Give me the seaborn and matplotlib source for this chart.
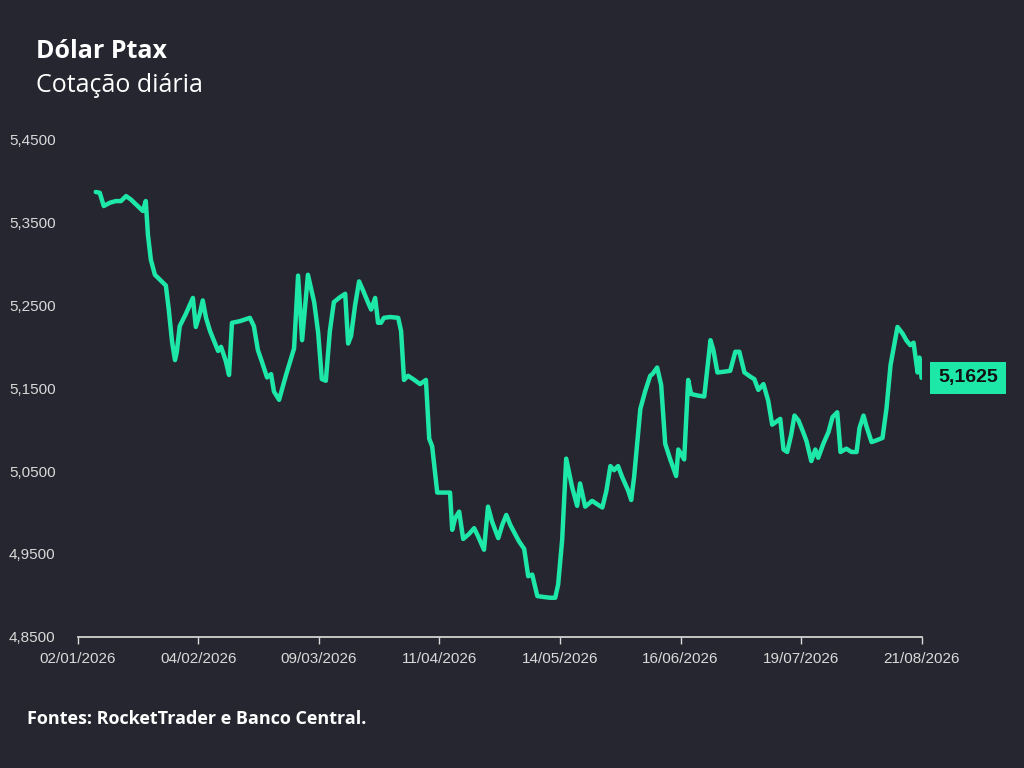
import pandas as pd
import numpy as np
import matplotlib.pyplot as plt
import matplotlib.dates as mdates
import seaborn as sns

start = pd.Timestamp('2026-01-02')
end = pd.Timestamp('2026-08-21')

# dias desde 02/01/2026
days = [4.9, 6.0, 7.1, 8.8, 10.4, 11.8, 13.2, 14.5, 16.4, 17.8,
        18.6, 19.2, 20.0, 21.1, 22.5, 24.1, 24.9, 25.8, 26.6, 27.1,
        27.9, 29.6, 31.5, 32.3, 33.4, 34.2, 35.1, 36.2, 37.3, 38.4,
        39.2, 40.5, 41.4, 42.2, 44.4, 47.1, 48.2, 49.3, 50.4, 51.8,
        52.9, 53.7, 55.1, 57.0, 58.1, 59.2, 60.3, 61.4, 63.0, 64.7,
        65.8, 66.8, 67.9, 69.0, 70.1, 71.8, 73.2, 74.0, 74.8, 75.9,
        77.0, 78.1, 79.5, 80.3, 81.4, 82.2, 83.0, 83.8, 85.5, 87.7,
        88.5, 89.3, 90.4, 91.8, 93.7, 95.3, 96.2, 97.0, 98.4, 100.0,
        101.9, 102.5, 103.3, 104.4, 105.5, 107.1, 108.5, 109.6, 111.2, 112.3,
        113.4, 115.1, 116.2, 117.3, 118.4, 119.7, 120.8, 122.2, 123.3, 124.4,
        125.8, 127.4, 129.3, 130.7, 131.5, 132.6, 133.7, 135.3, 136.7, 137.5,
        138.9, 140.8, 142.5, 143.6, 144.7, 145.8, 146.8, 147.9, 149.0, 150.7,
        151.5, 152.3, 154.0, 155.3, 156.7, 157.3, 158.6, 159.7, 160.8, 162.2,
        163.8, 164.4, 166.0, 167.1, 167.9, 169.9, 171.5, 173.2, 174.0, 175.1,
        177.0, 178.6, 180.0, 181.1, 182.5, 184.1, 185.2, 186.3, 187.7, 189.0,
        190.1, 192.3, 193.2, 194.2, 195.3, 196.2, 197.3, 198.4, 199.5, 200.8,
        201.9, 202.7, 204.1, 205.5, 206.6, 207.9, 208.8, 210.4, 211.8, 213.2,
        214.0, 215.1, 215.9, 217.3, 218.6, 220.3, 221.4, 222.5, 224.4, 225.8,
        226.8, 227.9, 228.8, 229.9, 230.4, 231.0]

ptax = [5.387, 5.386, 5.370, 5.374, 5.376, 5.376, 5.382, 5.378, 5.370, 5.364,
        5.376, 5.335, 5.305, 5.287, 5.281, 5.274, 5.245, 5.206, 5.184, 5.194,
        5.225, 5.240, 5.259, 5.224, 5.240, 5.256, 5.235, 5.219, 5.207, 5.195,
        5.200, 5.183, 5.166, 5.229, 5.231, 5.235, 5.225, 5.196, 5.182, 5.163,
        5.167, 5.146, 5.136, 5.166, 5.182, 5.198, 5.286, 5.208, 5.287, 5.254,
        5.217, 5.161, 5.159, 5.219, 5.254, 5.260, 5.264, 5.204, 5.213, 5.250,
        5.279, 5.268, 5.253, 5.245, 5.259, 5.229, 5.229, 5.235, 5.236, 5.235,
        5.219, 5.160, 5.165, 5.161, 5.155, 5.160, 5.089, 5.080, 5.024, 5.024,
        5.024, 4.979, 4.993, 5.001, 4.968, 4.974, 4.981, 4.971, 4.955, 5.007,
        4.989, 4.969, 4.985, 4.997, 4.985, 4.974, 4.965, 4.956, 4.923, 4.925,
        4.899, 4.898, 4.897, 4.897, 4.913, 4.967, 5.065, 5.031, 5.008, 5.035,
        5.007, 5.014, 5.009, 5.006, 5.026, 5.056, 5.051, 5.056, 5.043, 5.026,
        5.015, 5.043, 5.125, 5.146, 5.165, 5.167, 5.175, 5.154, 5.083, 5.064,
        5.044, 5.076, 5.064, 5.160, 5.143, 5.141, 5.140, 5.208, 5.196, 5.169,
        5.170, 5.171, 5.194, 5.194, 5.169, 5.164, 5.161, 5.148, 5.155, 5.135,
        5.106, 5.113, 5.076, 5.073, 5.094, 5.117, 5.111, 5.099, 5.086, 5.062,
        5.076, 5.066, 5.083, 5.097, 5.115, 5.121, 5.073, 5.077, 5.073, 5.073,
        5.102, 5.117, 5.104, 5.085, 5.087, 5.090, 5.126, 5.178, 5.224, 5.216,
        5.208, 5.202, 5.205, 5.169, 5.187, 5.1625]

n = min(len(days), len(ptax))
df = pd.DataFrame({'data': start + pd.to_timedelta(days[:n], unit='D'),
                   'ptax': ptax[:n]})

bg = '#262630'
green = '#1ee8a8'
grey = '#d9d9d9'

sns.set_theme(style='dark')
plt.rcParams['font.family'] = ['Liberation Sans', 'DejaVu Sans']
fig = plt.figure(figsize=(10.24, 7.68), dpi=100, facecolor=bg)
ax = fig.add_axes([0.076, 0.171, 0.824, 0.647], facecolor=bg)

sns.lineplot(data=df, x='data', y='ptax', ax=ax, color=green, linewidth=3.2,
             estimator=None, sort=False)

ax.set_xlim(start, end)
ax.set_ylim(4.85, 5.45)
yt = [4.85, 4.95, 5.05, 5.15, 5.25, 5.35, 5.45]
ax.set_yticks(yt)
ax.set_yticklabels([f'{v:.4f}'.replace('.', ',') for v in yt])
ax.tick_params(axis='y', length=0, pad=16, labelsize=11, labelcolor=grey)
xt = [start + pd.Timedelta(days=33 * i) for i in range(8)]
ax.set_xticks(xt)
ax.xaxis.set_major_formatter(mdates.DateFormatter('%d/%m/%Y'))
ax.tick_params(axis='x', length=5, width=1, color=grey, labelsize=11,
               labelcolor=grey, pad=6, bottom=True)
ax.set_xlabel('')
ax.set_ylabel('')
ax.grid(False)
for s in ['top', 'right', 'left']:
    ax.spines[s].set_visible(False)
ax.spines['bottom'].set_color(grey)

last = df['ptax'].iloc[-1]
ax.annotate(f'{last:.4f}'.replace('.', ','), xy=(1.0, last),
            xycoords=('axes fraction', 'data'), xytext=(12, 0),
            textcoords='offset points', va='center', ha='left',
            fontsize=14, fontweight='bold', color='#111111',
            bbox=dict(boxstyle='square,pad=0.4', fc=green, ec='none'))

fig.text(0.035, 0.925, 'Dólar Ptax', fontsize=18, fontweight='bold',
         color='white', family='Open Sans')
fig.text(0.035, 0.88, 'Cotação diária', fontsize=18, color='white',
         family='Open Sans')
fig.text(0.026, 0.057, 'Fontes: RocketTrader e Banco Central.', fontsize=13,
         fontweight='bold', color='white', family='Open Sans')

fig.savefig('out.png', dpi=100, facecolor=bg)
